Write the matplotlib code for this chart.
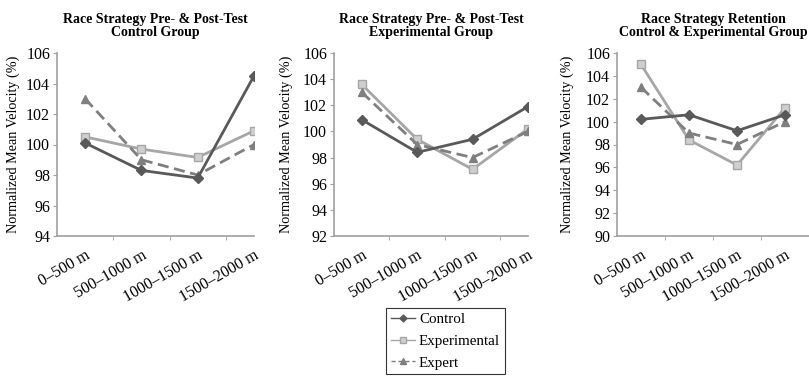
import numpy as np
import matplotlib
matplotlib.use('Agg')
import matplotlib.pyplot as plt
from matplotlib.lines import Line2D

plt.rcParams['font.family'] = ['Liberation Serif', 'DejaVu Serif']

# datos
tramos = ['0–500 m', '500–1000 m', '1000–1500 m', '1500–2000 m']
titulos = ['Race Strategy Pre- & Post-Test\nControl Group',
           'Race Strategy Pre- & Post-Test\nExperimental Group',
           'Race Strategy Retention\nControl & Experimental Group']
control = [[100.1, 98.3, 97.8, 104.5],
           [100.9, 98.4, 99.4, 101.9],
           [100.2, 100.6, 99.2, 100.6]]
experimental = [[100.5, 99.7, 99.15, 100.9],
                [103.6, 99.4, 97.1, 100.2],
                [105.0, 98.4, 96.2, 101.2]]
expert = [103, 99, 98, 100]
y_min = [94, 92, 90]
y_max = 106

W, H = 809, 377
fig = plt.figure(figsize=(W / 100, H / 100), dpi=100)

# posiciones de los paneles en pixeles (izq, der, limite derecho del eje x)
paneles = [(57, 254, 3.0), (334, 528, 3.0), (617, 809, 3.5)]
label_x = [20, 293, 574]
top, bottom = 53, 236

c_ctrl = '#595959'
c_exp = '#a6a6a6'
c_expert = '#7f7f7f'

for i, (l, r, xr) in enumerate(paneles):
    ax = fig.add_axes([l / W, 1 - bottom / H, (r - l) / W, (bottom - top) / H])
    x = np.arange(len(tramos))
    ax.plot(x, control[i], color=c_ctrl, lw=2, marker='D', ms=5,
            mfc=c_ctrl, mec=c_ctrl, zorder=3)
    ax.plot(x, experimental[i], color=c_exp, lw=2, marker='s', ms=6,
            mfc='#cfcfcf', mec=c_exp, zorder=2)
    ax.plot(x, expert, color=c_expert, lw=2, ls='--', dashes=(4, 2),
            marker='^', ms=6, mfc=c_expert, mec=c_expert, zorder=2)

    ax.set_xlim(-0.5, xr)
    ax.set_ylim(y_min[i], y_max)
    ax.set_yticks(np.arange(y_min[i], y_max + 1, 2))
    ax.set_xticks(x)
    ax.set_xticklabels(tramos, rotation=30, ha='right', rotation_mode='anchor',
                       fontsize=11.5)
    ax.set_xticks(np.arange(0.5, 3.0, 1.0), minor=True)
    ax.tick_params(axis='x', which='major', length=0, pad=8)
    ax.tick_params(axis='x', which='minor', length=3, color='#a0a0a0')
    ax.tick_params(axis='y', labelsize=11.5, length=3, color='#a0a0a0', pad=2)
    for s in ['top', 'right']:
        ax.spines[s].set_visible(False)
    for s in ['left', 'bottom']:
        ax.spines[s].set_color('#a0a0a0')
        ax.spines[s].set_linewidth(1.2)

    ax.set_title(titulos[i], fontsize=10, fontweight='bold', pad=12,
                 linespacing=1.05)
    ax.set_ylabel('Normalized Mean Velocity (%)', fontsize=10.2)
    ax.yaxis.set_label_coords((label_x[i] - l) / (r - l), 0.5)

# leyenda con lineas finas y marcadores chicos
manijas = [Line2D([], [], color=c_ctrl, lw=1, marker='D', ms=3.5),
           Line2D([], [], color=c_exp, lw=1, marker='s', ms=4, mfc='#cfcfcf'),
           Line2D([], [], color=c_expert, lw=1, ls='--', dashes=(3, 2),
                  marker='^', ms=4)]
leg = fig.legend(manijas, ['Control', 'Experimental', 'Expert'],
                 loc='upper left', bbox_to_anchor=(386 / W, 1 - 308 / H),
                 frameon=True, fancybox=False, fontsize=10.8,
                 handlelength=1.6, labelspacing=0.55, borderpad=0.3,
                 handletextpad=0.3, borderaxespad=0)
leg.get_frame().set_edgecolor('black')
leg.get_frame().set_linewidth(0.8)

fig.savefig('out.png', dpi=100)
